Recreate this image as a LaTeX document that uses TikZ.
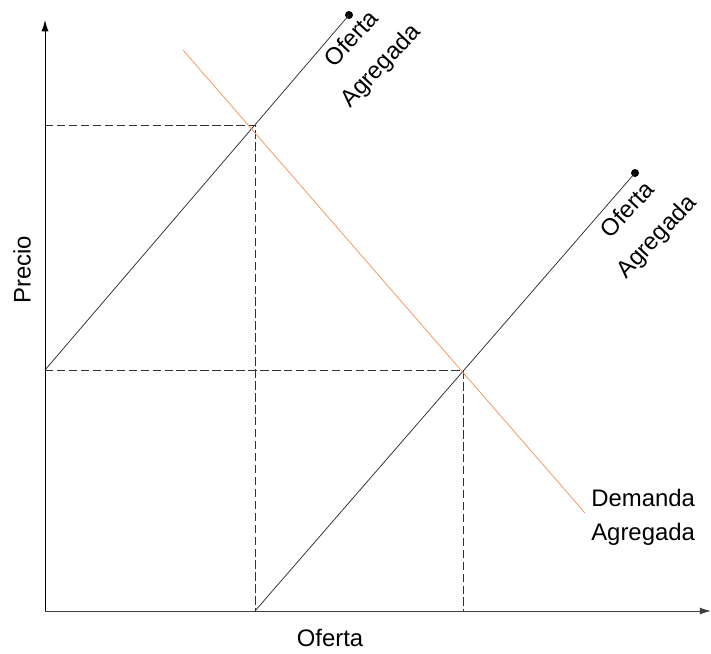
\documentclass[tikz,border=0pt]{standalone}
\usepackage{fontspec}
\setmainfont{Liberation Sans}
\usepackage{xcolor}
\usepackage{tikz}
\usetikzlibrary{arrows.meta, positioning, calc}
\definecolor{demandorange}{RGB}{242,150,100}

\begin{document}
\begin{tikzpicture}[x=0.025cm, y=-0.025cm,
    axis/.style={draw, -{Latex[length=8pt,width=5pt]}, line width=0.7pt},
    curve/.style={draw, line width=0.55pt, black!80},
    demand/.style={draw, line width=0.55pt, demandorange},
    guide/.style={draw, dash pattern=on 6pt off 2.5pt, line width=0.5pt, black!80},
    dot/.style={circle, fill=black, inner sep=0pt, minimum size=0.2cm},
    txt/.style={font=\fontsize{17}{24}\selectfont, inner sep=0pt},
    tilted/.style={txt, rotate=47, align=center, font=\fontsize{17}{28}\selectfont}]

    \useasboundingbox (0,0) rectangle (711,653);

    % Ejes
    \coordinate (O) at (45,611);
    \coordinate (ytop) at (45,20);
    \coordinate (xend) at (711,611);

    % Equilibrios
    \coordinate (E1) at (255,125);
    \coordinate (E2) at (463,370);
    \coordinate (p1) at (O |- E1);
    \coordinate (p2) at (O |- E2);
    \coordinate (q1) at (O -| E1);
    \coordinate (q2) at (O -| E2);

    % Curvas
    \node [dot] (s1end) at (349,15) {};
    \node [dot] (s2end) at (635,173) {};
    \coordinate (dA) at (183,50);
    \coordinate (dB) at (585,513);

    % Textos
    \node [tilted] (s1lab) at (367,53) {Oferta\\Agregada};
    \node [tilted] (s2lab) at (643,224) {Oferta\\Agregada};
    \node [txt, anchor=west, align=left] (dlab) at (591,517) {Demanda\\Agregada};
    \node [txt, rotate=90] (ylab) at (22,270) {Precio};
    \node [txt] (xlab) at (330,638) {Oferta};

    % Lineas guia
    \path [guide] (p1) -- (E1) -- (q1);
    \path [guide] (p2) -- (E2) -- (q2);

    % Oferta y demanda
    \path [curve] (p2) -- (s1end.center);
    \path [curve] (q1) -- (s2end.center);
    \path [demand] (dA) -- (dB);

    % Axes
    \path [axis] (O) -- (ytop);
    \path [axis, black!75] (O) -- (xend);

\end{tikzpicture}
\end{document}
